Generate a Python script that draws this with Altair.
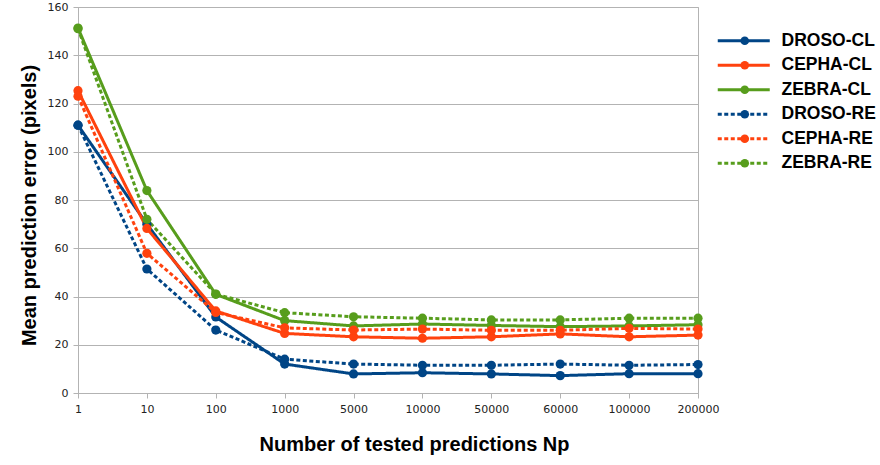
import altair as alt
import pandas as pd

x_labels = ["1", "10", "100", "1000", "5000", "10000", "50000", "60000", "100000", "200000"]
series_names = ["DROSO-CL", "CEPHA-CL", "ZEBRA-CL", "DROSO-RE", "CEPHA-RE", "ZEBRA-RE"]
series_colors = ["#004586", "#ff420e", "#579d1c", "#004586", "#ff420e", "#579d1c"]
series_dash = [[1, 0], [1, 0], [1, 0], [4, 2.5], [4, 2.5], [4, 2.5]]

droso_cl = [111, 70, 31.5, 12, 7.9, 8.4, 7.9, 7.2, 8.0, 8.0]
cepha_cl = [125.3, 68.2, 34, 24.7, 23.3, 22.7, 23.3, 24.5, 23.3, 24.0]
zebra_cl = [151.3, 83.9, 40.9, 30, 27.8, 28.6, 28.0, 27.5, 27.8, 28.3]
droso_re = [111, 51.4, 26.1, 14, 12, 11.5, 11.5, 12, 11.5, 11.8]
cepha_re = [123, 57.9, 33.4, 27, 26.1, 26.5, 26.0, 26.0, 26.8, 26.5]
zebra_re = [151, 72, 41, 33.3, 31.6, 31, 30.3, 30.3, 31, 31]

# marker keys: same series, distinct keys so the dot legend stays separate
marker_names = [n + " " for n in series_names]

values = [droso_cl, cepha_cl, zebra_cl, droso_re, cepha_re, zebra_re]
rows = []
for name, mname, vals in zip(series_names, marker_names, values):
    for xl, v in zip(x_labels, vals):
        rows.append({"Np": xl, "series": name, "marker": mname, "error": v})
df = pd.DataFrame(rows)

common_legend = dict(
    title=None, orient="none", padding=0, rowPadding=5.5,
    labelFont="Liberation Sans", labelFontSize=17.5, labelFontWeight="bold",
    legendY=25, labelLimit=200,
)

x_enc = alt.X("Np:N", sort=x_labels,
              scale=alt.Scale(type="point", padding=0),
              axis=alt.Axis(title="Number of tested predictions Np", labelAngle=0,
                            grid=False, titlePadding=20, titleX=336))
y_enc = alt.Y("error:Q", scale=alt.Scale(domain=[0, 160], nice=False),
              axis=alt.Axis(title="Mean prediction error (pixels)",
                            values=list(range(0, 161, 20)), titlePadding=8, titleY=198))

base = alt.Chart(df)

line_legend = alt.Legend(
    symbolType="M-5.2,0H5.2", symbolSize=100, symbolStrokeWidth=3,
    labelColor="#000000", legendX=657, labelOffset=29, **common_legend)

lines = base.mark_line(strokeWidth=3).encode(
    x=x_enc, y=y_enc,
    color=alt.Color("series:N", sort=series_names,
                    scale=alt.Scale(domain=series_names, range=series_colors),
                    legend=line_legend),
    strokeDash=alt.StrokeDash("series:N", sort=series_names,
                              scale=alt.Scale(domain=series_names, range=series_dash),
                              legend=line_legend),
)

points = base.mark_point(filled=True, size=85, opacity=1).encode(
    x=x_enc, y=y_enc,
    fill=alt.Fill("marker:N", sort=marker_names,
                  scale=alt.Scale(domain=marker_names, range=series_colors),
                  legend=alt.Legend(
                      symbolType="circle", symbolSize=75, symbolOpacity=1,
                      symbolStrokeWidth=0, legendX=658, labelOffset=29,
                      labelExpr="''", labelColor="transparent", **common_legend)),
)

chart = alt.layer(lines, points).properties(
    width=620, height=386,
    autosize=alt.AutoSizeParams(type="none"),
    padding={"left": 78, "top": 7, "right": 182, "bottom": 72},
).configure_view(
    stroke="#b3b3b3", strokeWidth=1,
).configure_axis(
    labelFont="DejaVu Sans", labelFontSize=11, labelColor="#222222",
    titleFont="Liberation Sans", titleFontSize=20, titleFontWeight="bold", titleColor="#000000",
    domainColor="#b3b3b3", tickColor="#b3b3b3", gridColor="#b3b3b3",
    tickSize=5, labelPadding=5,
)

chart.save("out.html", embed_options={"renderer": "svg", "actions": False})
